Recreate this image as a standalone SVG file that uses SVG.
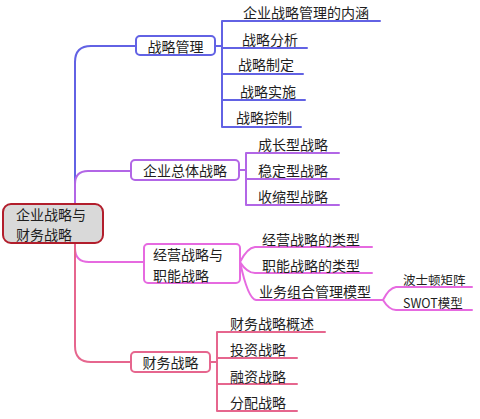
<svg xmlns="http://www.w3.org/2000/svg" width="480" height="419" viewBox="0 0 480 419">
<style>
text{font-family:"Noto Sans CJK SC","Noto Sans",sans-serif;font-size:14px;fill:#1e1e1e;dominant-baseline:central}
.sm{font-size:12.5px}
.c{text-anchor:middle}
path{fill:none;stroke-width:2;stroke-linecap:round;stroke-linejoin:round}
.b{stroke:#6262e4}
.p{stroke:#b266e6}
.m{stroke:#e66ae0}
.r{stroke:#e6668e}
.box{fill:#fff;stroke-width:2}
</style>
<rect width="480" height="419" fill="#fff"/>
<g id="connectors">
<path class="b" d="M75,204 V62 Q75,46 91,46 H136"/>
<path class="p" d="M75,204 V184 Q75,171 88,171 H131"/>
<path class="m" d="M75,243 V248 Q75,262 89,262 H144"/>
<path class="r" d="M75,243 V346 Q75,362 91,362 H131"/>
<path class="b" d="M215,46 H222 M222,21 V127 M222,21 H380 M222,48 H307 M222,74 H303 M222,100 H305 M222,127 H301"/>
<path class="p" d="M239,170 H246 M246,153 V205 M246,153 H339 M246,179 H339 M246,205 H339"/>
<path class="m" d="M240,262 Q247,248 255,247 H372 M240,262 Q247,273 255,273 H372 M240,262 Q248,299 256,300 H383"/>
<path class="m" d="M383,300 Q389,288 396,287 H472 M383,300 Q389,310 396,310 H472"/>
<path class="r" d="M210,362 H217 M217,332 V411 M217,332 H325 M217,358 H297 M217,384 H297 M217,411 H297"/>
</g>
<g id="root">
<rect x="3" y="204" width="100" height="39" rx="8" fill="#d9d9d9" stroke="#b21e2c" stroke-width="2"/>
<text x="16" y="213.5">企业战略与</text>
<text x="16" y="234">财务战略</text>
</g>
<g id="n-zlgl">
<rect class="box b" x="136" y="36" width="79" height="19" rx="4"/>
<text class="c" x="175.5" y="46">战略管理</text>
</g>
<g id="n-qyzt">
<rect class="box p" x="131" y="160" width="108" height="20" rx="4"/>
<text class="c" x="185" y="170">企业总体战略</text>
</g>
<g id="n-jyzn">
<rect class="box m" x="144" y="244" width="96" height="39" rx="4"/>
<text x="153" y="254">经营战略与</text>
<text x="153" y="274.5">职能战略</text>
</g>
<g id="n-cwzl">
<rect class="box r" x="131" y="352" width="79" height="20" rx="4"/>
<text class="c" x="170.5" y="362">财务战略</text>
</g>
<g id="leaves-zlgl">
<text x="243" y="12">企业战略管理的内涵</text>
<text x="242" y="39">战略分析</text>
<text x="238" y="64">战略制定</text>
<text x="240" y="91">战略实施</text>
<text x="236" y="117">战略控制</text>
</g>
<g id="leaves-qyzt">
<text x="258" y="144">成长型战略</text>
<text x="258" y="170">稳定型战略</text>
<text x="258" y="196">收缩型战略</text>
</g>
<g id="leaves-jyzn">
<text x="262" y="239">经营战略的类型</text>
<text x="262" y="265">职能战略的类型</text>
<text x="259" y="291">业务组合管理模型</text>
</g>
<g id="leaves-ywzh">
<text class="sm" x="403" y="279">波士顿矩阵</text>
<text class="sm" x="403" y="302">SWOT模型</text>
</g>
<g id="leaves-cwzl">
<text x="230" y="323">财务战略概述</text>
<text x="230" y="349">投资战略</text>
<text x="230" y="376">融资战略</text>
<text x="230" y="402">分配战略</text>
</g>
</svg>
